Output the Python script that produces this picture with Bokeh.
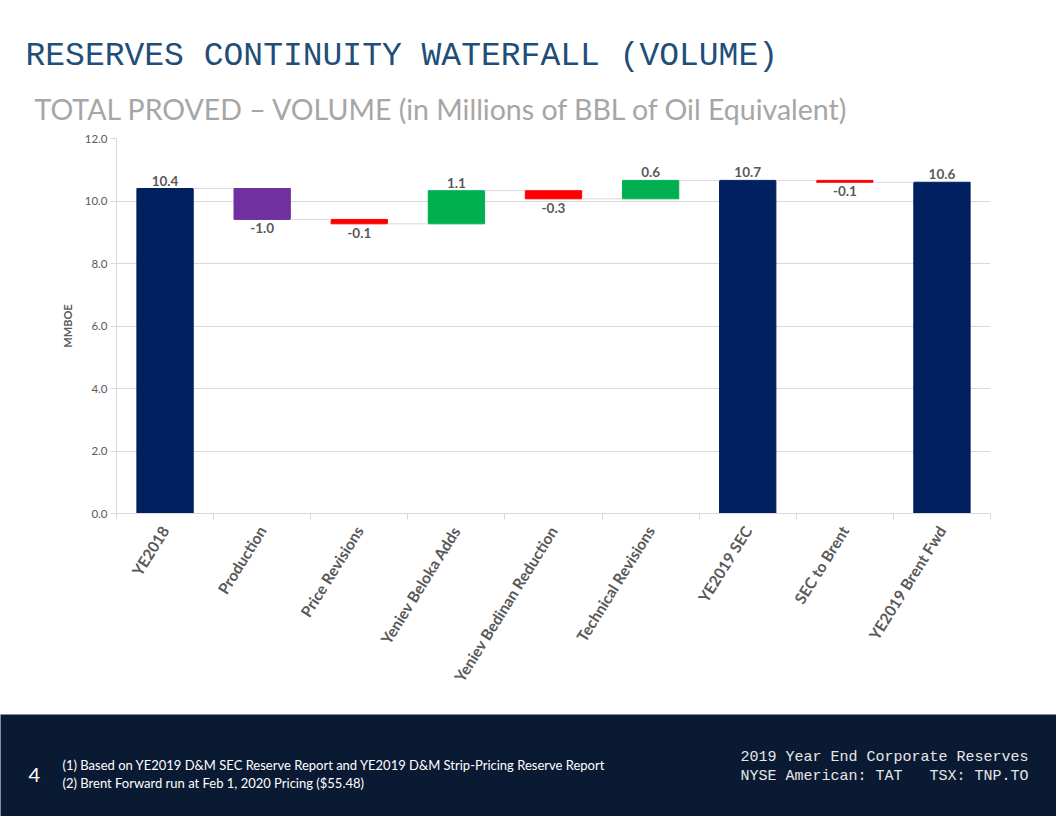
import math
from bokeh.plotting import figure
from bokeh.layouts import column
from bokeh.models import Range1d, FixedTicker, ColumnDataSource, NumeralTickFormatter
from bokeh.core.properties import value
from bokeh.embed import file_html
from bokeh.resources import INLINE

# ---------------- data ----------------
categories = ["YE2018", "Production", "Price Revisions", "Yeniev Beloka Adds",
              "Yeniev Bedinan Reduction", "Technical Revisions", "YE2019 SEC",
              "SEC to Brent", "YE2019 Brent Fwd"]
values = [10.4, -0.99, -0.14, 1.06, -0.26, 0.59, 10.66, -0.06, 10.6]
is_total = [True, False, False, False, False, False, True, False, True]
y_ticks = [0, 2, 4, 6, 8, 10, 12]

title_text = "RESERVES CONTINUITY WATERFALL (VOLUME)"
subtitle_text = "TOTAL PROVED \u2013 VOLUME (in Millions of BBL of Oil Equivalent)"
y_label = "MMBOE"
page_number = "4"
footnotes = ["(1) Based on YE2019 D&M SEC Reserve Report and YE2019 D&M Strip-Pricing Reserve Report",
             "(2) Brent Forward run at Feb 1, 2020 Pricing ($55.48)"]
footer_right = ["2019 Year End Corporate Reserves",
                "NYSE American: TAT\u00a0\u00a0\u00a0TSX: TNP.TO"]

# ---------------- styles ----------------
NAVY = "#002060"
PURPLE = "#7030A0"
RED = "#FF0000"
GREEN = "#00B050"
bar_colors = [NAVY, PURPLE, RED, GREEN, RED, GREEN, NAVY, RED, NAVY]
GRID = "#D9D9D9"
TXT = "#595959"
FOOT_BG = "#0B1A33"
W = 1056
HEAD_H = 128
FOOT_H = 102
MAIN_H = 816 - HEAD_H - FOOT_H
BAR_W = 0.58

# ---------------- waterfall computation ----------------
xs, bottoms, tops, levels, labels, lab_y, lab_above = [], [], [], [], [], [], []
running = 0.0
for i, (v, t) in enumerate(zip(values, is_total)):
    if t:
        b, tp = 0.0, v
        running = v
    else:
        start = running
        running = start + v
        b, tp = min(start, running), max(start, running)
    xs.append(i + 0.5)
    bottoms.append(b)
    tops.append(tp)
    levels.append(running)
    labels.append("{:.1f}".format(v))
    above = t or v >= 0
    lab_above.append(above)
    lab_y.append(tp if above else b)

src = ColumnDataSource(dict(x=xs, bottom=bottoms, top=tops, color=bar_colors))

# ---------------- header ----------------
header = figure(width=W, height=HEAD_H, x_range=Range1d(0, W), y_range=Range1d(HEAD_H, 0),
                output_backend="svg", toolbar_location=None, min_border=0,
                x_axis_location=None, y_axis_location=None, frame_align=False)
header.grid.visible = False
header.outline_line_color = None
header.text(x=[25], y=[56], text=[title_text], text_font=value("Liberation Mono"),
            text_font_size="33px", text_color="#1F4E79", text_baseline="middle")
header.text(x=[34], y=[108], text=[subtitle_text], text_font=value("Lato"),
            text_font_size="28.5px", text_color="#A6A6A6", text_baseline="middle")

# ---------------- main chart ----------------
p = figure(width=W, height=MAIN_H, x_range=Range1d(0, len(categories)), y_range=Range1d(0, 12),
           output_backend="svg", toolbar_location=None, frame_align=False,
           min_border_left=116, min_border_right=66, min_border_top=10,
           min_border_bottom=MAIN_H - 10 - 375)
p.outline_line_color = None
p.xgrid.visible = False
p.ygrid.grid_line_color = GRID

p.vbar(x="x", bottom="bottom", top="top", width=BAR_W, fill_color="color",
       line_color="color", source=src)

# connectors
cx0 = [xs[i] + BAR_W / 2 for i in range(len(xs) - 1)]
cx1 = [xs[i + 1] - BAR_W / 2 for i in range(len(xs) - 1)]
cy = levels[:-1]
p.segment(x0=cx0, x1=cx1, y0=cy, y1=cy, line_color=GRID, line_width=1)

# data labels
ax = [x for x, a in zip(xs, lab_above) if a]
ay = [y for y, a in zip(lab_y, lab_above) if a]
at = [l for l, a in zip(labels, lab_above) if a]
bx = [x for x, a in zip(xs, lab_above) if not a]
by = [y for y, a in zip(lab_y, lab_above) if not a]
bt = [l for l, a in zip(labels, lab_above) if not a]
p.text(x=ax, y=ay, text=at, text_align="center", text_baseline="bottom", y_offset=-3,
       text_font=value("Lato"), text_font_style="bold", text_font_size="13.5px", text_color=TXT)
p.text(x=bx, y=by, text=bt, text_align="center", text_baseline="top", y_offset=4,
       text_font=value("Lato"), text_font_style="bold", text_font_size="13.5px", text_color=TXT)

# x axis
p.xaxis.ticker = FixedTicker(ticks=xs, minor_ticks=list(range(len(categories) + 1)))
p.xaxis.major_label_overrides = {x: c for x, c in zip(xs, categories)}
p.xaxis.major_label_orientation = math.radians(58)
p.xaxis.major_tick_in = 0
p.xaxis.major_tick_out = 0
p.xaxis.minor_tick_in = 0
p.xaxis.minor_tick_out = 6
p.xaxis.minor_tick_line_color = GRID
p.xaxis.axis_line_color = GRID
p.xaxis.major_label_standoff = 8
p.xaxis.major_label_text_font = "Lato"
p.xaxis.major_label_text_font_style = "bold"
p.xaxis.major_label_text_font_size = "15.5px"
p.xaxis.major_label_text_color = TXT

# y axis
p.yaxis.ticker = FixedTicker(ticks=y_ticks)
p.yaxis.formatter = NumeralTickFormatter(format="0.0")
p.yaxis.axis_line_color = GRID
p.yaxis.major_tick_in = 0
p.yaxis.major_tick_out = 6
p.yaxis.major_tick_line_color = GRID
p.yaxis.minor_tick_line_color = None
p.yaxis.major_label_standoff = 3
p.yaxis.major_label_text_font = "Lato"
p.yaxis.major_label_text_font_size = "11.5px"
p.yaxis.major_label_text_color = TXT
p.yaxis.axis_label = y_label
p.yaxis.axis_label_text_font = "Lato"
p.yaxis.axis_label_text_font_style = "bold"
p.yaxis.axis_label_text_font_size = "11px"
p.yaxis.axis_label_text_color = TXT
p.yaxis.axis_label_standoff = 8

# ---------------- footer ----------------
footer = figure(width=W, height=FOOT_H, x_range=Range1d(0, W), y_range=Range1d(FOOT_H, 0),
                output_backend="svg", toolbar_location=None, min_border=0,
                x_axis_location=None, y_axis_location=None, frame_align=False,
                background_fill_color=FOOT_BG, border_fill_color=FOOT_BG)
footer.grid.visible = False
footer.outline_line_color = None
footer.text(x=[28], y=[60], text=[page_number], text_font=value("Lato"),
            text_font_size="20px", text_color="#FFFFFF", text_baseline="middle")
footer.text(x=[62, 62], y=[50, 68], text=footnotes, text_font=value("Lato"),
            text_font_size="13px", text_color="#FFFFFF", text_baseline="middle")
footer.text(x=[1028, 1028], y=[43, 62], text=footer_right, text_font=value("Liberation Mono"),
            text_font_size="15px", text_color="#E6E6E6", text_baseline="middle", text_align="right")

layout = column(header, p, footer, spacing=0)
open("out.html", "w").write(file_html(layout, INLINE))
